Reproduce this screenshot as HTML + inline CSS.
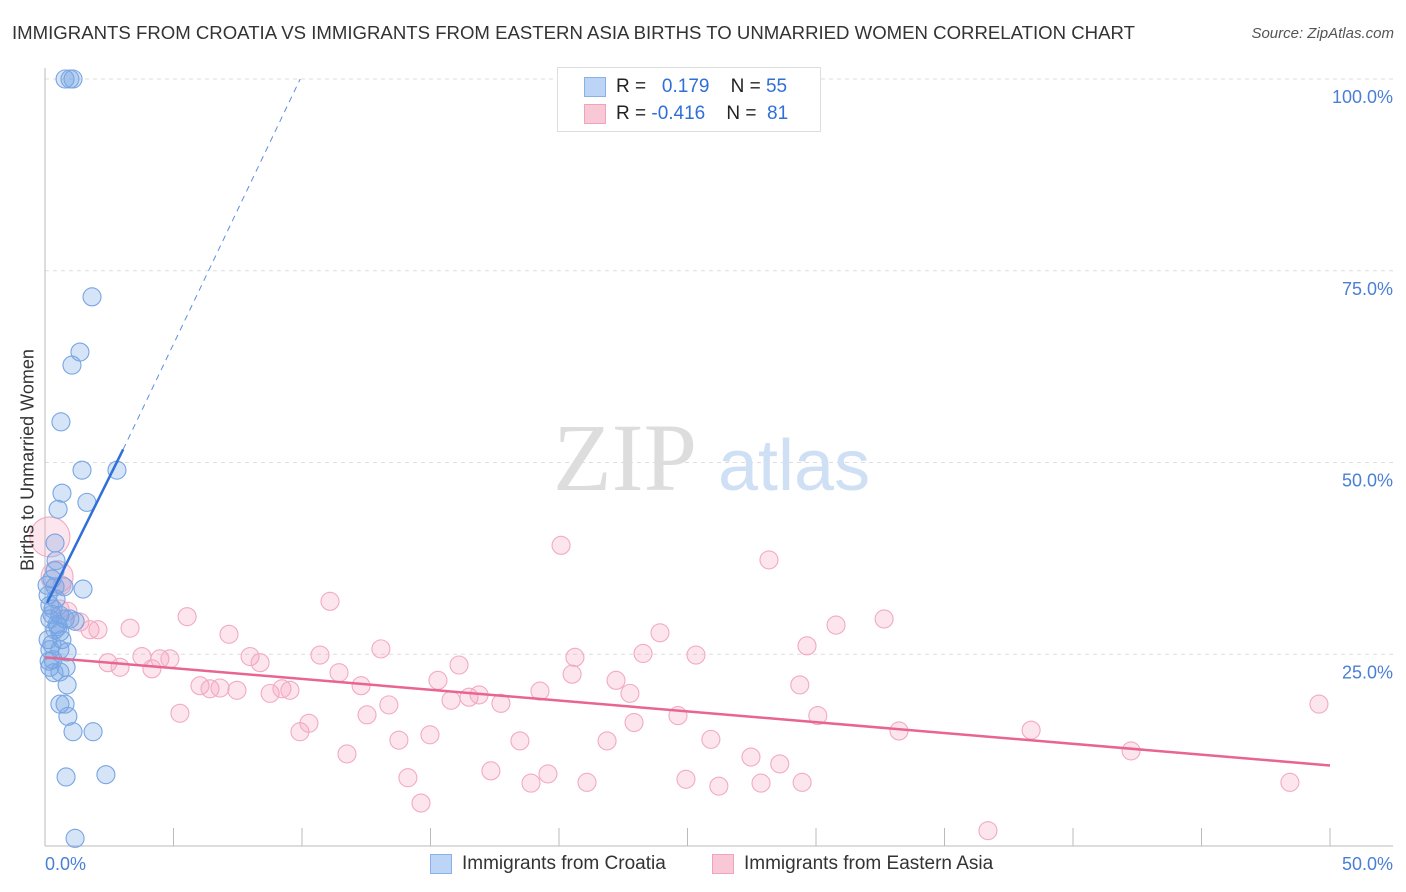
<!DOCTYPE html>
<html><head><meta charset="utf-8"><style>
body{margin:0;background:#fff;font-family:"Liberation Sans",sans-serif;}
#wrap{position:relative;width:1406px;height:892px;overflow:hidden}
.t{position:absolute;white-space:nowrap}
</style></head><body>
<div id="wrap">
<div class="t" style="left:12px;top:22px;font-size:18.6px;color:#333">IMMIGRANTS FROM CROATIA VS IMMIGRANTS FROM EASTERN ASIA BIRTHS TO UNMARRIED WOMEN CORRELATION CHART</div>
<div class="t" style="right:12px;top:25px;font-size:15px;color:#555;font-style:italic">Source: ZipAtlas.com</div>
<svg id="svg" width="1406" height="892" style="position:absolute;left:0;top:0"></svg>
</div>
<script>
const xTicks=[0,5,10,15,20,25,30,35,40,45,50];
const yTicks=[25,50,75,100];
const blueX=[0.78,0.97,1.09,1.83,1.36,1.05,0.62,1.44,2.80,0.66,1.63,0.51,0.39,0.43,0.39,0.27,0.39,1.48,0.74,0.19,0.31,0.27,0.58,0.47,0.78,1.17,0.39,0.58,0.12,0.19,0.58,0.86,0.31,0.19,0.82,0.58,0.86,0.58,0.78,0.89,1.09,1.87,0.82,2.37,1.17,0.12,0.43,0.19,0.27,0.08,0.97,0.51,0.66,0.16,0.35];
const blueY=[100,100,100,71.6,64.4,62.7,55.3,49.0,49.0,46.0,44.8,43.9,39.5,37.2,35.9,34.8,33.8,33.5,33.8,31.4,30.9,30.2,30.1,28.9,29.6,29.3,28.2,27.9,26.9,25.6,25.6,25.3,24.3,23.3,23.3,22.7,21.0,18.5,18.5,16.9,14.9,14.9,9.0,9.3,1.0,32.7,32.2,29.6,26.3,34.0,29.6,28.6,26.9,24.1,22.6];
const pinkX=[0.19,0.47,0.66,0.58,0.89,1.36,1.75,2.06,3.31,2.45,2.92,3.77,4.16,4.47,4.86,5.53,5.25,6.03,6.42,6.81,7.47,7.16,7.98,8.37,8.76,9.22,9.53,9.92,10.27,10.70,11.09,11.44,11.75,12.30,12.53,13.07,13.38,13.77,14.12,14.63,14.98,15.29,15.80,16.11,16.50,16.89,17.35,17.74,18.48,18.91,19.26,19.57,20.08,20.51,20.62,21.09,21.87,22.22,22.76,22.92,23.27,23.93,24.63,24.94,25.33,25.91,26.22,27.47,27.86,28.17,28.59,29.37,29.46,29.65,30.07,30.78,32.65,33.23,36.69,38.37,42.26,48.44,49.57];
const pinkY=[40.3,35.1,34.0,30.9,30.6,29.2,28.2,28.2,28.4,23.9,23.3,24.7,23.1,24.4,24.4,29.9,17.3,20.9,20.5,20.6,20.3,27.6,24.7,23.9,19.9,20.5,20.3,14.9,16.0,24.9,31.9,22.6,12.0,20.9,17.1,25.7,18.4,13.8,8.9,5.6,14.5,21.6,19.0,23.6,19.4,19.7,9.8,18.6,13.7,8.2,20.2,9.4,39.2,22.4,24.6,8.3,13.7,21.6,19.9,16.1,25.1,27.8,17.0,8.7,24.9,13.9,7.8,11.6,8.2,37.3,10.7,21.0,8.3,26.1,17.0,28.8,29.6,15.0,2.0,15.1,12.4,8.3,18.5];
const pinkR=[];pinkR[0]=20;pinkR[1]=16;
const X0=45,X1=1330,Y0=846,Y100=79;
const sx=v=>X0+(X1-X0)*v/50, sy=v=>Y0-(Y0-Y100)*v/100;
const svg=document.getElementById('svg');const NS='http://www.w3.org/2000/svg';
function mk(t,a){const e=document.createElementNS(NS,t);for(const k in a)e.setAttribute(k,a[k]);svg.appendChild(e);return e;}
yTicks.forEach(v=>{const l=mk('line',{x1:X0,x2:1393,y1:sy(v),y2:sy(v),stroke:'#ddd','stroke-dasharray':'4,4'});


const t=mk('text',{x:1393,y:sy(v)+24,'text-anchor':'end','font-size':18,fill:'#4a7fd6'});t.textContent=v.toFixed(1)+'%';

});
mk('line',{x1:X0,x2:X0,y1:68,y2:Y0,stroke:'#bbb'});
mk('line',{x1:X0,x2:X1+63,y1:Y0,y2:Y0,stroke:'#bbb'});
xTicks.forEach(v=>{const l=mk('line',{x1:sx(v),x2:sx(v),y1:828,y2:Y0,stroke:'#bbb'});

});
[[0,'start',45],[50,'end',1393]].forEach(([v,a,x])=>{const t=mk('text',{x:x,y:870,'text-anchor':a,'font-size':18,fill:'#4a7fd6'});t.textContent=v.toFixed(1)+'%';

});
const w=mk('text',{x:553,y:490,'font-size':96,fill:'#ddd','font-family':'Liberation Serif,serif'});w.textContent='ZIP';


const w2=mk('text',{x:718,y:490,'font-size':72,fill:'#cfe0f5'});w2.textContent='atlas';


pinkX.forEach((x,i)=>{const c=mk('circle',{cx:sx(x),cy:sy(pinkY[i]),r:pinkR[i]||9,fill:'rgba(245,160,190,0.28)',stroke:'#f2aac2','stroke-width':1.1});

});
blueX.forEach((x,i)=>{const c=mk('circle',{cx:sx(x),cy:sy(blueY[i]),r:9,fill:'rgba(120,165,230,0.3)',stroke:'#78a5e3','stroke-width':1.1});

});
let l=mk('line',{x1:sx(0.08),y1:sy(31.7),x2:sx(3.04),y2:sy(51.7),stroke:'#2f6fd8','stroke-width':2.5});


l=mk('line',{x1:sx(3.04),y1:sy(51.7),x2:sx(9.93),y2:sy(100),stroke:'#5b8fe0','stroke-width':1,'stroke-dasharray':'6,5'});


l=mk('line',{x1:sx(0),y1:sy(24.6),x2:sx(50),y2:sy(10.5),stroke:'#e8658f','stroke-width':2.5});


</script>
<div class="t" style="left:28px;top:460px;font-size:18px;color:#333;transform:translate(-50%,-50%) rotate(-90deg)">Births to Unmarried Women</div>
<div style="position:absolute;left:557px;top:67px;width:262px;height:63px;border:1px solid #ddd;background:#fff;font-size:19px;color:#222">
 <div style="position:absolute;left:26px;top:9px;width:20px;height:18px;background:#bcd4f5;border:1px solid #8ab0e8"></div>
 <div class="t" style="left:58px;top:8px">R = &nbsp;<span style="color:#2f6fd8">&nbsp;0.179</span>&nbsp;&nbsp;&nbsp; N = <span style="color:#2f6fd8">55</span></div>
 <div style="position:absolute;left:26px;top:36px;width:20px;height:18px;background:#f9c8d7;border:1px solid #f0a3bd"></div>
 <div class="t" style="left:58px;top:35px">R = <span style="color:#2f6fd8">-0.416</span>&nbsp;&nbsp;&nbsp; N = &nbsp;<span style="color:#2f6fd8">81</span></div>
</div>
<div style="position:absolute;left:430px;top:852px;font-size:19px;color:#333">
 <div style="position:absolute;left:0;top:2px;width:20px;height:18px;background:#bcd4f5;border:1px solid #8ab0e8"></div>
 <div class="t" style="left:32px;top:1px">Immigrants from Croatia</div>
 <div style="position:absolute;left:282px;top:2px;width:20px;height:18px;background:#f9c8d7;border:1px solid #f0a3bd"></div>
 <div class="t" style="left:314px;top:1px">Immigrants from Eastern Asia</div>
</div>
</body></html>
